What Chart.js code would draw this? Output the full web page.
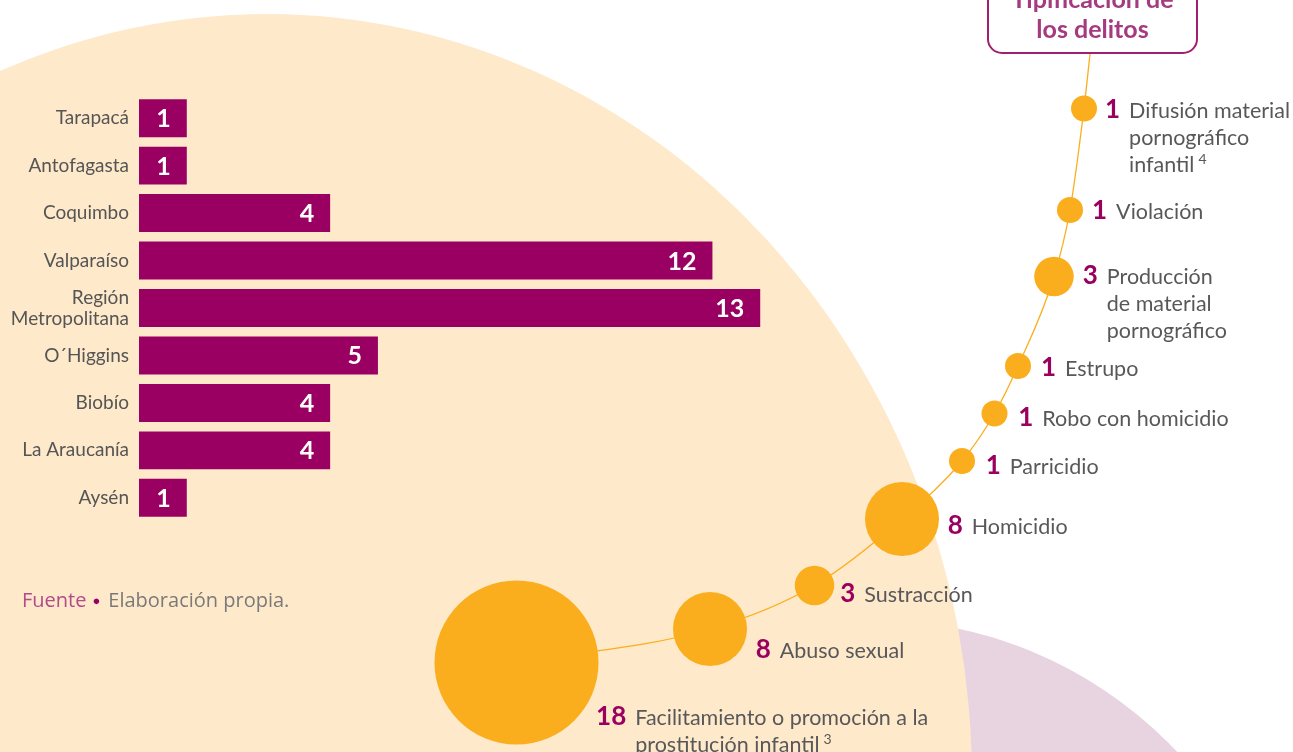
<!DOCTYPE html>
<html><head><meta charset="utf-8">
<script src="https://cdn.jsdelivr.net/npm/chart.js@4"></script>
<style>
html,body{margin:0;padding:0;background:#fff;}
#page{position:relative;width:1293px;height:752px;overflow:hidden;background:#fff;}
.bg{position:absolute;border-radius:50%;}
#purple{left:445px;top:619px;width:848px;height:848px;background:#E8D3E1;}
#peach{left:-438px;top:14px;width:1410px;height:1532px;background:#FEE9CA;}
canvas{position:absolute;}
#bubbleCanvas{left:0;top:0;}
#barCanvas{left:0;top:74px;}
#box{position:absolute;left:987px;top:-30px;width:211px;height:84px;box-sizing:border-box;border:2px solid #A0206F;border-radius:15px;background:#fff;}
.title{position:absolute;left:987px;width:211px;text-align:center;font-family:Lato,sans-serif;font-weight:700;font-size:25px;color:#A43A7F;line-height:30px;}
#source{position:absolute;left:22px;top:586px;font-family:"Open Sans",sans-serif;font-size:20px;line-height:28px;color:#7A7A7A;white-space:nowrap;}
#source .k{color:#B24A8B;}
#source .dot{color:#990061;font-size:13px;margin:0 8px 0 6px;position:relative;top:-2px;}
</style>
</head>
<body>
<div id="page">
  <div class="bg" id="purple"></div>
  <div class="bg" id="peach"></div>
  <canvas id="bubbleCanvas" width="1293" height="752"></canvas>
  <canvas id="barCanvas" width="808" height="468"></canvas>
  <div id="box"></div>
  <div class="title" style="top:-17px;">Tipificación de</div>
  <div class="title" style="top:13px;">los delitos</div>
  <div id="source"><span class="k">Fuente</span><span class="dot">●</span>Elaboración propia.</div>
</div>
<script>
// ---------- DATA ----------
const regions = ['Tarapacá','Antofagasta','Coquimbo','Valparaíso',['Región','Metropolitana'],'O´Higgins','Biobío','La Araucanía','Aysén'];
const regionCases = [1,1,4,12,13,5,4,4,1];

const crimeLabels = [
  ['Facilitamiento o promoción a la','prostitución infantil'],
  ['Abuso sexual'],
  ['Sustracción'],
  ['Homicidio'],
  ['Parricidio'],
  ['Robo con homicidio'],
  ['Estrupo'],
  ['Producción','de material','pornográfico'],
  ['Violación'],
  ['Difusión material','pornográfico','infantil']
];
const crimeCases = [18,8,3,8,1,1,1,3,1,1];
const crimeNotes = ['3','','','','','','','','','4'];

// ---------- LAYOUT (positions along the decorative arc, in page units) ----------
const trackX = [516.5,710,814.5,902,962,994.5,1018,1054,1070,1084];
const trackY = [662.5,629,585.5,519,461,413.5,366,276.5,210,108.5];
const trackEnd = {x:1090,y:54};
const labelAngle = [34,24,16,7,9,8,3,-3,0,0];
const labelGap = [14,13,7,9,11,11,10,9,9,8];

// ---------- STYLES ----------
const BAR = '#990061', BUBBLE = '#FBAE1D', NUM = '#99005F', TXT = '#58585A';
function sizeFor(v){ // radius scale used by the design
  const a=[[1,13],[3,19.75],[8,37],[18,82]];
  for(let i=1;i<a.length;i++){ if(v<=a[i][0]){const [x0,y0]=a[i-1],[x1,y1]=a[i];return y0+(y1-y0)*(v-x0)/(x1-x0);} }
  return a[a.length-1][1];
}

// ---------- BAR CHART ----------
const barValueLabels = {
  id:'barValueLabels',
  afterDatasetsDraw(chart){
    const ctx=chart.ctx; const meta=chart.getDatasetMeta(0);
    ctx.save();
    ctx.fillStyle='#fff'; ctx.font='700 25px Lato'; ctx.textAlign='right'; ctx.textBaseline='alphabetic';
    meta.data.forEach((bar,i)=>{ ctx.fillText(String(regionCases[i]), bar.x-16, bar.y+9); });
    ctx.restore();
  }
};
new Chart(document.getElementById('barCanvas'),{
  type:'bar',
  data:{labels:regions,datasets:[{data:regionCases,backgroundColor:BAR,borderWidth:0,categoryPercentage:1,barPercentage:0.8}]},
  options:{
    indexAxis:'y',responsive:false,animation:false,
    layout:{padding:0,autoPadding:false},
    plugins:{legend:{display:false},tooltip:{enabled:false}},
    scales:{
      x:{display:false,min:0,max:14},
      y:{grid:{display:false,drawTicks:false},border:{display:false},
         ticks:{color:'#555',font:{family:'Lato',size:19,lineHeight:1.1},padding:10,crossAlign:'near'},
         afterFit(s){s.width=139;}}
    }
  },
  plugins:[barValueLabels]
});

// ---------- BUBBLE TRACK ----------
const bubbleLabels = {
  id:'bubbleLabels',
  afterDatasetsDraw(chart){
    const ctx=chart.ctx; const meta=chart.getDatasetMeta(1);
    ctx.save(); ctx.textBaseline='alphabetic'; ctx.textAlign='left';
    meta.data.forEach((pt,i)=>{
      const r=sizeFor(crimeCases[i]); const a=labelAngle[i]*Math.PI/180; const d=r+labelGap[i];
      const x=pt.x+d*Math.cos(a), y=pt.y+d*Math.sin(a);
      const base=y+9;
      ctx.font='700 26px Lato'; ctx.fillStyle=NUM;
      const n=String(crimeCases[i]); ctx.fillText(n,x,base);
      const tx=x+ctx.measureText(n).width+9;
      ctx.font='400 21.5px Lato'; ctx.fillStyle=TXT;
      const lines=crimeLabels[i];
      lines.forEach((ln,j)=>{ ctx.fillText(ln,tx,base+27*j); });
      if(crimeNotes[i]){
        const last=lines[lines.length-1]; const lw=ctx.measureText(last).width;
        ctx.font='400 14px Lato';
        ctx.fillText(crimeNotes[i],tx+lw+4,base+27*(lines.length-1)-8);
      }
    });
    ctx.restore();
  }
};
const linePts = trackX.map((x,i)=>({x,y:trackY[i]})).concat([trackEnd]);
new Chart(document.getElementById('bubbleCanvas'),{
  type:'bubble',
  data:{datasets:[
    {type:'line',data:linePts,borderColor:BUBBLE,borderWidth:1.3,pointRadius:0,fill:false,cubicInterpolationMode:'monotone',order:2,clip:false},
    {data:trackX.map((x,i)=>({x,y:trackY[i],v:crimeCases[i]})),backgroundColor:BUBBLE,borderWidth:0,
     radius:(c)=>c.raw?sizeFor(c.raw.v):0,order:1,clip:false}
  ]},
  options:{
    responsive:false,animation:false,layout:{padding:0,autoPadding:false},
    plugins:{legend:{display:false},tooltip:{enabled:false}},
    scales:{x:{type:'linear',display:false,min:0,max:1293},y:{type:'linear',display:false,min:0,max:752,reverse:true}}
  },
  plugins:[bubbleLabels]
});
</script>
</body></html>
